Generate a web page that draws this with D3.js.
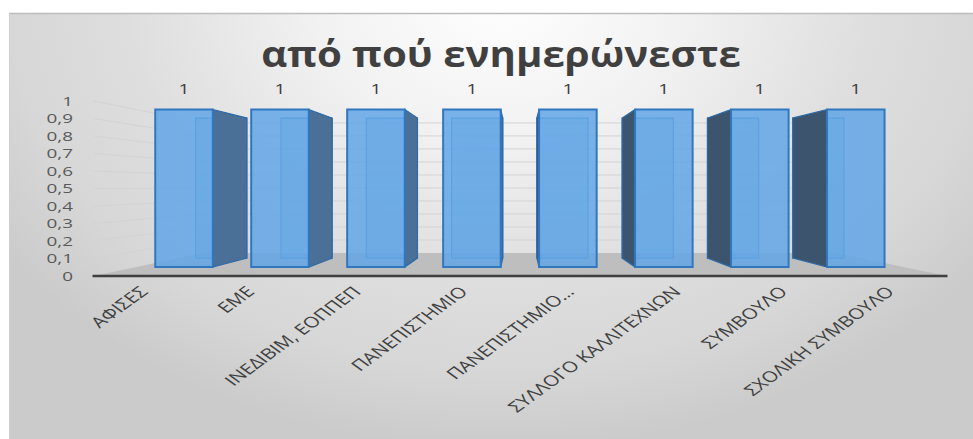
<!DOCTYPE html>
<html>
<head>
<meta charset="utf-8">
<script src="https://cdn.jsdelivr.net/npm/d3@7"></script>
<style>
  html, body { margin: 0; padding: 0; background: #ffffff; }
  svg { display: block; }
  text { font-family: "Open Sans", "Noto Sans", sans-serif; }
</style>
</head>
<body>
<svg id="chart" width="973" height="439"></svg>
<script>
// ---- data ----
const categories = [
  "ΑΦΙΣΕΣ",
  "ΕΜΕ",
  "ΙΝΕΔΙΒΙΜ, ΕΟΠΠΕΠ",
  "ΠΑΝΕΠΙΣΤΗΜΙΟ",
  "ΠΑΝΕΠΙΣΤΗΜΙΟ…",
  "ΣΥΛΛΟΓΟ ΚΑΛΛΙΤΕΧΝΩΝ",
  "ΣΥΜΒΟΥΛΟ",
  "ΣΧΟΛΙΚΗ ΣΥΜΒΟΥΛΟ"
];
const values = [1, 1, 1, 1, 1, 1, 1, 1];
const yTicks = [0, 0.1, 0.2, 0.3, 0.4, 0.5, 0.6, 0.7, 0.8, 0.9, 1];
const yTickLabels = ["0", "0,1", "0,2", "0,3", "0,4", "0,5", "0,6", "0,7", "0,8", "0,9", "1"];
const chartTitle = "από πού ενημερώνεστε";

// ---- layout ----
const W = 973, H = 439;
const svg = d3.select("#chart");
const stretch = 1.37;              // the whole chart is rendered wider than tall
const vp = { x: 519, y: 186.4 };   // vanishing point of the perspective
const depth = { front: 1, barFront: 0.9, barBack: 0.8, back: 0.743 };

// front-plane scales
const x = d3.scaleBand().domain(categories).range([93.5, 946.5])
  .paddingInner(0.4).paddingOuter(0.2);
const y = d3.scaleLinear().domain([0, 1]).range([276, 101]);
const [x0, x1] = [93.5, 946.5];

// perspective projection toward the vanishing point
const P = (px, py, s) => [vp.x + (px - vp.x) * s, vp.y + (py - vp.y) * s];
const poly = pts => pts.map(p => p.join(",")).join(" ");

// ---- background ----
const defs = svg.append("defs");
const bg = defs.append("radialGradient").attr("id", "bgGrad")
  .attr("gradientUnits", "userSpaceOnUse")
  .attr("cx", 500).attr("cy", 0).attr("r", 600)
  .attr("gradientTransform", "translate(500,0) scale(1,0.75) translate(-500,0)");
[[0, "#fefefe"], [0.3, "#f2f2f2"], [0.62, "#dedede"], [0.82, "#d7d7d7"], [1, "#cbcbcb"]]
  .forEach(([o, c]) => bg.append("stop").attr("offset", o).attr("stop-color", c));

svg.append("rect").attr("x", 9).attr("y", 13).attr("width", W - 9).attr("height", H - 13)
  .attr("fill", "url(#bgGrad)");
svg.append("line").attr("x1", 9).attr("x2", W).attr("y1", 13.5).attr("y2", 13.5)
  .attr("stroke", "#bdbdbd").attr("stroke-width", 1.5);
svg.append("line").attr("x1", 9.5).attr("x2", 9.5).attr("y1", 13).attr("y2", H)
  .attr("stroke", "#cfcfcf").attr("stroke-width", 1);

// ---- walls: gridlines on side wall and back wall ----
const grid = svg.append("g").attr("stroke", "#d3d3d3").attr("stroke-width", 1).attr("fill", "none");
yTicks.filter(t => t > 0).forEach(t => {
  const a = P(x0, y(t), depth.front);
  const b = P(x0, y(t), depth.back);
  const c = P(x1, y(t), depth.back);
  grid.append("polyline").attr("points", poly([a, b, c]));
});

// ---- floor ----
svg.append("polygon")
  .attr("points", poly([
    P(x0, y(0), depth.front), P(x1, y(0), depth.front),
    P(x1, y(0), depth.back), P(x0, y(0), depth.back)
  ]))
  .attr("fill", "#bebebe");
svg.append("line")
  .attr("x1", x0 - 1).attr("x2", x1 + 1).attr("y1", y(0)).attr("y2", y(0))
  .attr("stroke", "#3f3f3f").attr("stroke-width", 2.5);

// ---- bars ----
const barG = svg.append("g");
categories.forEach((cat, i) => {
  const v = values[i];
  const l = x(cat), r = x(cat) + x.bandwidth();
  const top = y(v), bot = y(0);
  const f = [P(l, top, depth.barFront), P(r, top, depth.barFront), P(r, bot, depth.barFront), P(l, bot, depth.barFront)];
  const b = [P(l, top, depth.barBack), P(r, top, depth.barBack), P(r, bot, depth.barBack), P(l, bot, depth.barBack)];
  const g = barG.append("g");
  // back face
  g.append("polygon").attr("points", poly(b))
    .attr("fill", "#5b9bd5").attr("fill-opacity", 0.35)
    .attr("stroke", "#3b82c8").attr("stroke-width", 1.2);
  // side face facing the vanishing point
  const centre = (l + r) / 2;
  if (centre < vp.x - 2) {
    g.append("polygon").attr("points", poly([f[1], b[1], b[2], f[2]]))
      .attr("fill", "#4a7098").attr("stroke", "#2f6aa6").attr("stroke-width", 1.2);
  } else if (centre > vp.x + 2) {
    g.append("polygon").attr("points", poly([f[0], b[0], b[3], f[3]]))
      .attr("fill", "#3c546d").attr("stroke", "#2f6aa6").attr("stroke-width", 1.2);
  }
  // front face
  g.append("polygon").attr("points", poly(f))
    .attr("fill", "#62a6e6").attr("fill-opacity", 0.85)
    .attr("stroke", "#2f78c0").attr("stroke-width", 2);
  // value label
  const lab = P(centre, top, depth.barFront);
  g.append("text")
    .attr("transform", `translate(${lab[0]},${lab[1] - 16}) scale(${stretch},1)`)
    .attr("text-anchor", "middle")
    .attr("font-size", 14).attr("fill", "#404040")
    .text(String(v).replace(".", ","));
});

// ---- value axis labels ----
const yAx = svg.append("g");
yTicks.forEach((t, i) => {
  yAx.append("text")
    .attr("transform", `translate(73,${y(t)}) scale(1.45,1)`)
    .attr("dy", "0.35em")
    .attr("text-anchor", "end")
    .attr("font-size", 13).attr("fill", "#595959")
    .text(yTickLabels[i]);
});

// ---- category labels ----
const xAx = svg.append("g");
categories.forEach(cat => {
  const cx = x(cat) + x.bandwidth() / 2;
  xAx.append("text")
    .attr("transform", `translate(${cx - 3},${y(0) + 13}) scale(${stretch},1) rotate(-45)`)
    .attr("dy", "0.35em")
    .attr("text-anchor", "end")
    .attr("font-size", 15).attr("fill", "#404040")
    .text(cat);
});

// ---- title ----
const title = svg.append("text")
  .attr("text-anchor", "middle")
  .attr("font-size", 36).attr("font-weight", "bold").attr("fill", "#404040")
  .text(chartTitle);
const tw = title.node().getComputedTextLength();
title.attr("transform", `translate(501,67) scale(${480 / tw},1)`);
</script>
</body>
</html>
